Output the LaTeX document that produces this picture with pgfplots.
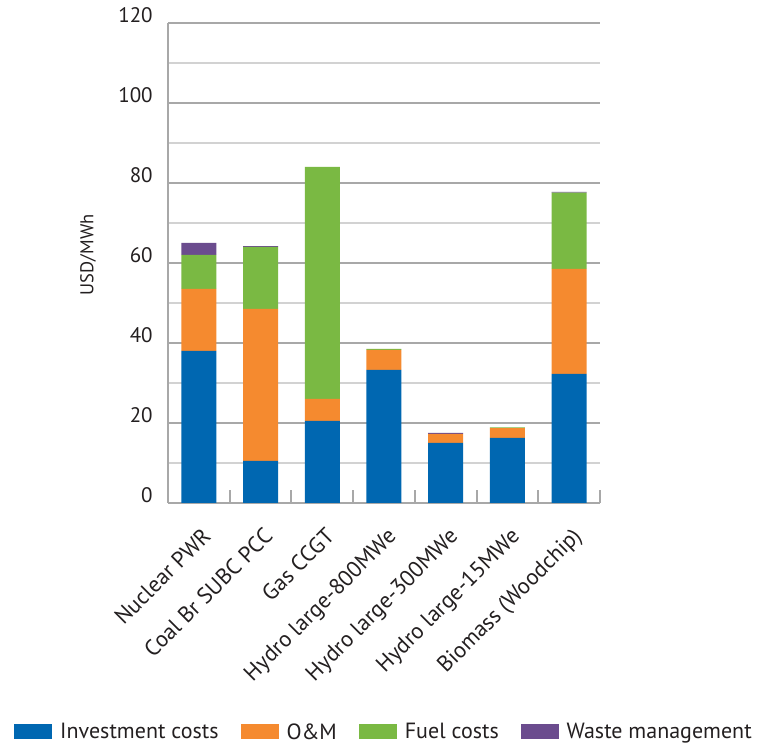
\documentclass[border=0pt]{standalone}
\usepackage{fontspec}
\setmainfont{PT Sans}
\usepackage{pgfplots}
\pgfplotsset{compat=1.18}

\definecolor{invest}{HTML}{0067B1}
\definecolor{om}{HTML}{F58A2F}
\definecolor{fuel}{HTML}{7AB943}
\definecolor{waste}{HTML}{6B4C8E}
\definecolor{gridgray}{HTML}{A8A8A8}
\definecolor{minorgray}{HTML}{D2D2D2}
\definecolor{txt}{HTML}{231F20}

\begin{document}
\begin{tikzpicture}
\useasboundingbox (0,0) rectangle (760bp,748bp);
\begin{axis}[
  at={(168bp,245bp)}, anchor=south west,
  scale only axis,
  width=432bp, height=480bp,
  ybar stacked,
  bar width=35bp,
  xmin=-0.5, xmax=6.5,
  ymin=0, ymax=120,
  axis x line=bottom, axis y line=left,
  axis line style={draw=gridgray, line width=2bp, -},
  ytick={0,20,...,120},
  minor ytick={10,30,...,110},
  ymajorgrids, yminorgrids,
  major grid style={draw=gridgray, line width=2bp},
  minor grid style={draw=minorgray, line width=1.3bp},
  ytick style={draw=none},
  xtick style={draw=none},
  xtick={0,...,6},
  xticklabels={Nuclear PWR, Coal Br SUBC PCC, Gas CCGT, Hydro large-800MWe,
    Hydro large-300MWe, Hydro large-15MWe, Biomass (Woodchip)},
  xticklabel style={yshift=-21bp, xshift=2bp, rotate=45, anchor=north east,
    inner sep=0pt, font=\fontsize{22.5bp}{26bp}\selectfont, text=txt},
  yticklabel style={anchor=base east, inner sep=0pt, xshift=-13bp,
    font=\fontsize{21bp}{24bp}\selectfont, text=txt},
  /pgf/number format/assume math mode=true,
  extra x ticks={0.5,1.5,...,6.5},
  extra x tick labels={},
  extra x tick style={grid=none, major tick length=13bp, xtick align=inside,
    xtick style={draw=gridgray, line width=2bp}},
  ylabel={\fontsize{18.5bp}{21bp}\selectfont USD/MWh},
  ylabel style={at={(axis description cs:-0.185,0.517)}, anchor=center,
    text=txt},
  legend columns=4,
  legend style={at={(axis description cs:0.5,-0.477)}, anchor=center,
    draw=none, fill=none, font=\fontsize{22bp}{26bp}\selectfont, text=txt,
    /tikz/every odd column/.append style={column sep=6bp},
    /tikz/every even column/.append style={column sep=20bp}},
  legend image code/.code={\fill[#1] (0bp,-7.5bp) rectangle (38bp,7.5bp);},
]
\addplot+[fill=invest, draw=none] coordinates {
(0,38) (1,10.5) (2,20.5) (3,33.3) (4,15) (5,16.3) (6,32.3)};
\addplot+[fill=om, draw=none] coordinates {
(0,15.5) (1,38) (2,5.5) (3,5) (4,2.3) (5,2.4) (6,26.2)};
\addplot+[fill=fuel, draw=none] coordinates {
(0,8.5) (1,15.5) (2,58) (3,0.2) (4,0) (5,0.2) (6,19.1)};
\addplot+[fill=waste, draw=none] coordinates {
(0,3) (1,0.2) (2,0) (3,0) (4,0.2) (5,0) (6,0.2)};
\legend{Investment costs, O\&M, Fuel costs, Waste management}
\end{axis}
\end{tikzpicture}
\end{document}
